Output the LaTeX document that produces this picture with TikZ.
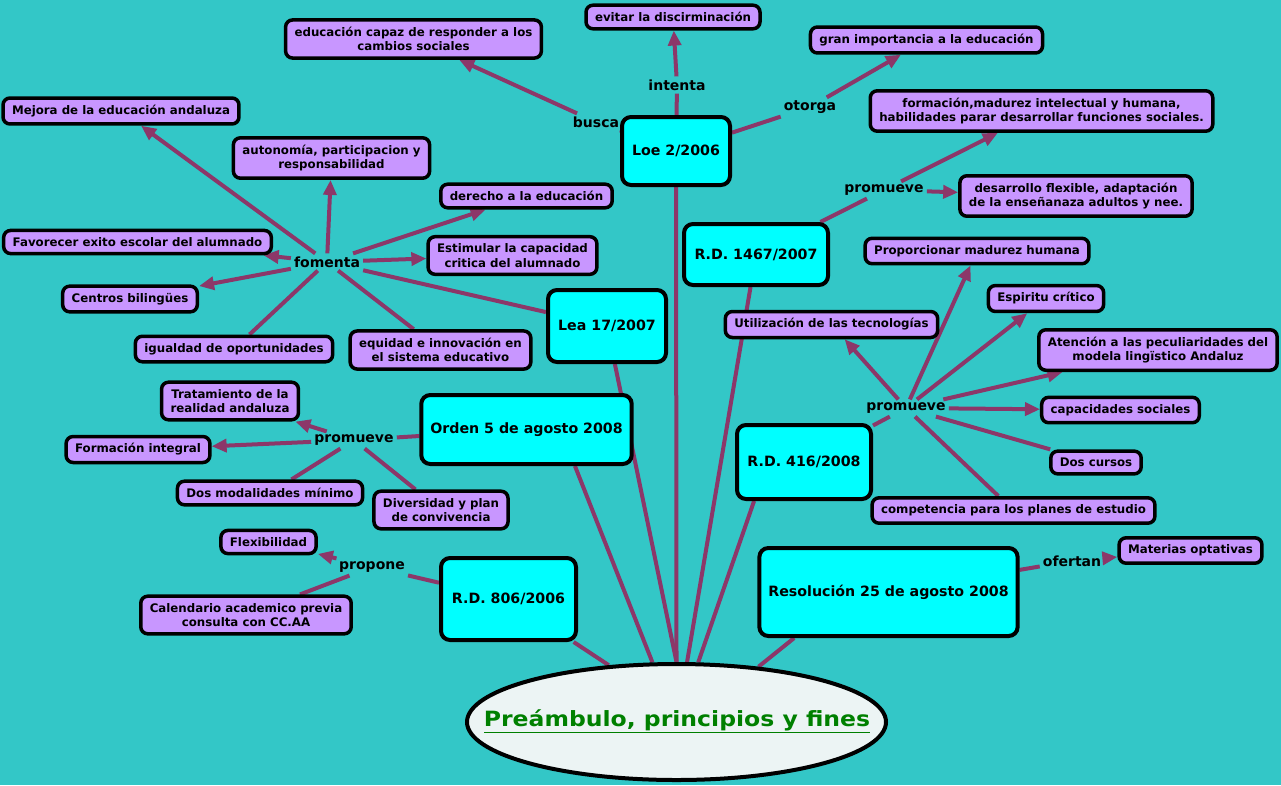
\documentclass[tikz,border=0pt]{standalone}
\usepackage{fontspec}
\setmainfont{DejaVu Sans}
\newfontfamily\titlefont{DejaVu Sans}[FakeStretch=1.12]
\usepackage{tikz}
\usetikzlibrary{arrows.meta,backgrounds,shapes.geometric}
\definecolor{bgteal}{RGB}{51,199,199}
\definecolor{softpurple}{RGB}{200,150,255}
\definecolor{lawcyan}{RGB}{0,255,255}
\definecolor{linkmaroon}{RGB}{140,55,105}
\definecolor{softwhite}{RGB}{236,244,244}
\definecolor{titlegreen}{RGB}{0,128,0}
\tikzset{
  block/.style={rectangle, rounded corners=7pt, draw=black, line width=3.5pt, fill=softpurple,
                inner xsep=9pt, inner ysep=7pt, align=center, font=\fontsize{11.8}{14.5}\selectfont\bfseries},
  blockcyan/.style={block, rounded corners=9pt, line width=4pt, fill=lawcyan,
                font=\fontsize{14.2}{17}\selectfont\bfseries},
  blockmain/.style={ellipse, draw=black, line width=4pt, fill=softwhite, inner sep=0pt},
  titletext/.style={font=\titlefont\fontsize{21}{25}\selectfont\bfseries, text=titlegreen},
  linkword/.style={inner sep=3pt, font=\fontsize{14}{16}\selectfont\bfseries},
  arrow/.style={-{Triangle[length=15pt,width=13pt]}, line width=4pt, linkmaroon},
  arrowline/.style={line width=4pt, linkmaroon},
}

\begin{document}
\begin{tikzpicture}[x=1pt, y=-1pt]
\useasboundingbox (0,0) rectangle (1281,785);
\begin{scope}[on background layer]
  \fill[bgteal] (0,0) rectangle (1281,785);
\end{scope}

% centre and laws
\node[blockmain, minimum width=419, minimum height=116] (main) at (676.5,722) {};
\node[titletext] (title) at (677,721) {\underline{Preámbulo, principios y fines}};
\node[blockcyan, minimum width=108, minimum height=68] (loe) at (676,151) {Loe 2/2006};
\node[blockcyan, minimum width=144, minimum height=61] (rdmil) at (756,254.5) {R.D. 1467/2007};
\node[blockcyan, minimum width=118, minimum height=72] (lea) at (607,326) {Lea 17/2007};
\node[blockcyan, minimum width=205, minimum height=69] (orden) at (526.5,429.5) {Orden 5 de agosto 2008};
\node[blockcyan, minimum width=135, minimum height=82] (rdoch) at (508.5,599) {R.D. 806/2006};
\node[blockcyan, minimum width=134, minimum height=74] (rdcuat) at (804,462) {R.D. 416/2008};
\node[blockcyan, minimum width=253, minimum height=88] (resol) at (888.5,592) {Resolución 25 de agosto 2008};

% link words
\node[linkword] (busca) at (596,122) {busca};
\node[linkword] (intenta) at (677,85) {intenta};
\node[linkword] (otorga) at (810,107) {otorga};
\node[linkword] (prom1) at (884,190) {promueve};
\node[linkword] (fomenta) at (327,262) {fomenta};
\node[linkword] (prom2) at (354,440) {promueve};
\node[linkword] (propone) at (372,567) {propone};
\node[linkword] (prom3) at (906,408) {promueve};
\node[linkword] (ofertan) at (1072,561) {ofertan};

% concepts
\node[block] (educacion) at (413.5,39) {educación capaz de responder a los\\cambios sociales};
\node[block] (evitar) at (673,17) {evitar la discirminación};
\node[block] (importancia) at (926.5,40) {gran importancia a la educación};
\node[block] (formacion) at (1041.5,111) {formación,madurez intelectual y humana,\\habilidades parar desarrollar funciones sociales.};
\node[block] (desarrollo) at (1076,196) {desarrollo flexible, adaptación\\de la enseñanaza adultos y nee.};
\node[block] (madurez) at (977,251) {Proporcionar madurez humana};
\node[block] (espiritu) at (1046,298.5) {Espiritu crítico};
\node[block] (atencion) at (1158,350) {Atención a las peculiaridades del\\modela lingïstico Andaluz};
\node[block] (tecnologias) at (831.5,324.5) {Utilización de las tecnologías};
\node[block] (capacidades) at (1120.5,410) {capacidades sociales};
\node[block] (cursos) at (1096,462.5) {Dos cursos};
\node[block] (competencia) at (1013.5,510.5) {competencia para los planes de estudio};
\node[block] (optativas) at (1190.5,550.5) {Materias optativas};
\node[block] (mejora) at (121,111) {Mejora de la educación andaluza};
\node[block] (autonomia) at (331.5,158) {autonomía, participacion y\\responsabilidad};
\node[block] (derecho) at (526.5,196) {derecho a la educación};
\node[block] (exito) at (137.5,242) {Favorecer exito escolar del alumnado};
\node[block] (critica) at (512.5,255.5) {Estimular la capacidad\\critica del alumnado};
\node[block] (bilingues) at (130,299) {Centros bilingües};
\node[block] (igualdad) at (234,349) {igualdad de oportunidades};
\node[block] (equidad) at (440.5,350) {equidad e innovación en\\el sistema educativo};
\node[block] (realidad) at (230,401) {Tratamiento de la\\realidad andaluza};
\node[block] (integral) at (138,449.5) {Formación integral};
\node[block] (modalidades) at (270,493) {Dos modalidades mínimo};
\node[block] (diversidad) at (441,510) {Diversidad y plan\\de convivencia};
\node[block] (flexibilidad) at (268.5,542) {Flexibilidad};
\node[block] (calendario) at (246,615) {Calendario academico previa\\consulta con CC.AA};

% connectors
\begin{scope}[on background layer]
\foreach \a/\b in {rdoch/main.140, orden.-37/main.112, lea/main.90, loe/main.90,
                   rdmil/main.80, rdcuat.-142/main.70, resol.-154/main.34}
  \draw[arrowline] (\a) -- (\b);
\foreach \a/\b in {loe/busca, loe/intenta, loe/otorga, rdmil/prom1, lea/fomenta, orden/prom2,
                   rdoch/propone, rdcuat/prom3, resol/ofertan, fomenta/igualdad, fomenta/equidad,
                   prom2/modalidades, prom2/diversidad, propone/calendario, prom3/cursos, prom3/competencia}
  \draw[arrowline] (\a) -- (\b);
\foreach \a/\b in {busca/educacion, intenta/evitar, otorga/importancia, prom1/formacion, prom1/desarrollo,
                   fomenta/mejora, fomenta/autonomia, fomenta/derecho, fomenta/critica, fomenta/exito,
                   fomenta/bilingues, prom2/realidad, prom2/integral, propone/flexibilidad,
                   prom3/tecnologias, prom3/madurez, prom3/espiritu, prom3/atencion, prom3/capacidades,
                   ofertan/optativas}
  \draw[arrow] (\a) -- (\b);
\end{scope}
\end{tikzpicture}
\end{document}
